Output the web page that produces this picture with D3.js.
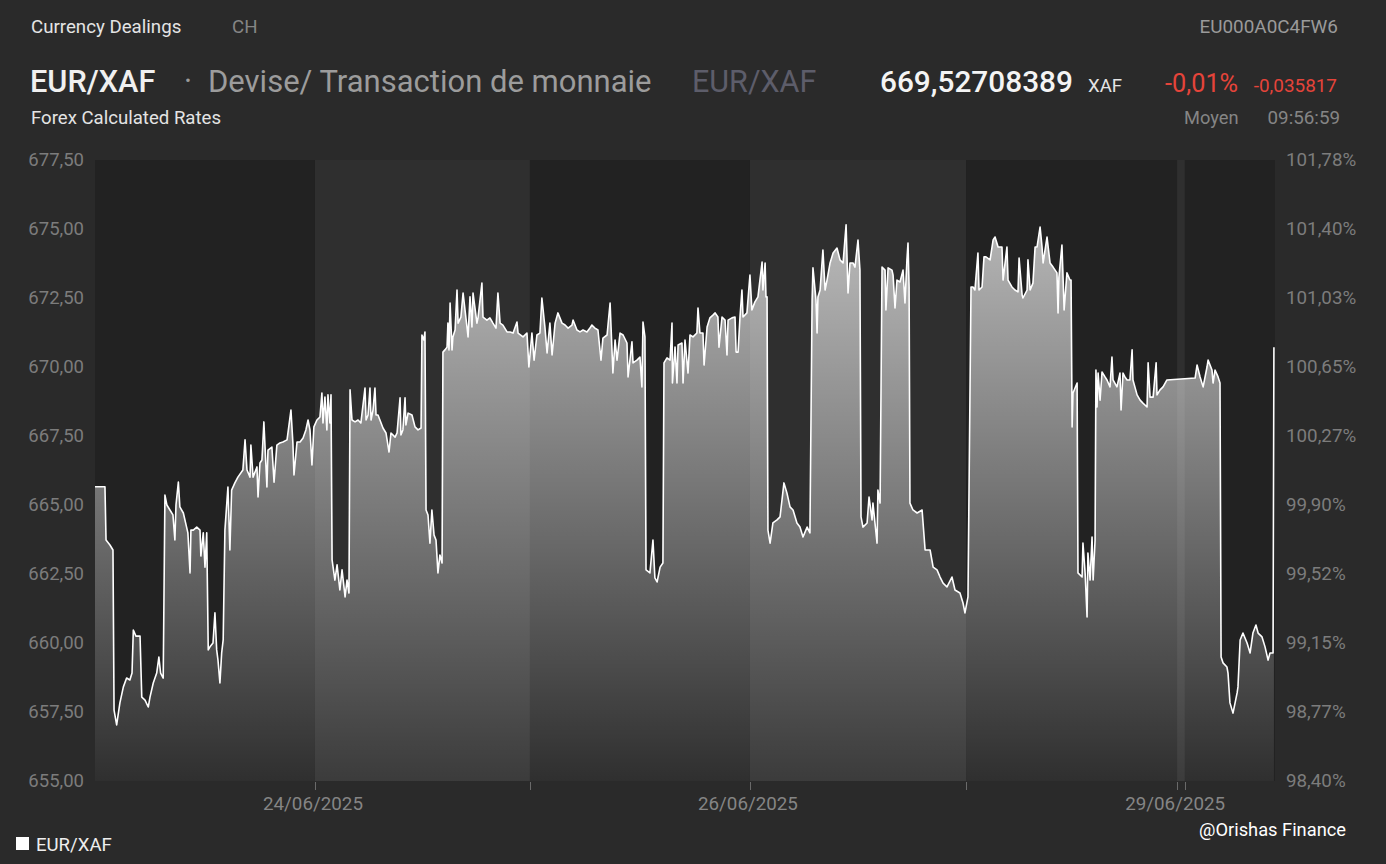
<!DOCTYPE html>
<html><head><meta charset="utf-8">
<script src="https://cdn.jsdelivr.net/npm/d3@7"></script>
<style>
html,body{margin:0;padding:0;background:#2a2a2a;}
svg{display:block;}
text{font-family:Roboto,"Noto Sans",sans-serif;}
</style></head>
<body>
<svg id="chart" width="1386" height="864"></svg>
<script>
// ---- data (x in trading-day units: 0 = 23/06 00:00, 1 = 24/06 ...) ----
const series = [
[-0.016,665.66],[0.030,665.66],[0.035,663.73],[0.053,663.55],[0.067,663.37],[0.072,657.57],[0.084,657.03],[0.099,657.83],[0.115,658.41],[0.130,658.73],[0.145,658.66],[0.155,658.91],[0.161,660.47],[0.173,660.25],[0.192,660.25],[0.200,658.04],[0.215,657.93],[0.230,657.68],[0.238,658.04],[0.253,658.55],[0.269,658.91],[0.279,659.49],[0.287,658.91],[0.299,658.73],
[0.307,665.36],[0.316,665.00],[0.330,664.82],[0.344,664.64],[0.353,663.73],[0.358,665.00],[0.369,665.83],[0.376,664.93],[0.392,664.71],[0.407,664.20],[0.413,663.99],[0.423,662.54],[0.427,664.09],[0.438,664.09],[0.454,664.20],[0.469,664.09],[0.473,663.15],[0.484,663.99],[0.492,662.75],[0.500,663.99],
[0.507,659.75],[0.515,659.86],[0.529,660.00],[0.538,661.09],[0.546,659.75],[0.552,659.38],[0.561,658.55],[0.569,659.64],[0.576,660.11],
[0.584,664.09],[0.598,665.65],[0.607,663.37],[0.615,665.54],[0.630,665.80],[0.644,666.01],[0.667,666.27],[0.677,667.36],[0.686,666.27],[0.700,666.01],[0.704,667.17],[0.714,666.01],[0.732,666.38],[0.737,665.29],[0.746,666.52],[0.755,666.63],[0.764,668.01],[0.778,665.65],[0.783,666.99],[0.801,667.10],[0.811,665.83],[0.824,667.17],[0.838,667.25],[0.852,667.28],[0.871,667.36],[0.889,668.44],[0.898,667.25],[0.903,666.09],[0.917,667.28],[0.931,667.28],[0.945,667.43],[0.958,667.72],[0.968,668.08],[0.977,667.72],[0.986,666.45],[0.995,667.83],[1.009,668.08],[1.023,668.19],[1.032,669.06],[1.037,667.97],[1.046,668.91],[1.055,667.72],[1.060,668.99],[1.069,667.97],[1.074,668.99],
[1.079,663.01],[1.092,662.28],[1.102,662.83],[1.115,661.92],[1.125,662.65],[1.139,661.67],[1.148,662.28],[1.157,661.81],
[1.162,669.17],[1.171,668.08],[1.185,668.01],[1.199,668.08],[1.212,667.97],[1.231,669.24],[1.236,668.08],[1.245,668.26],[1.254,669.24],[1.259,668.08],[1.268,668.44],[1.277,669.24],[1.282,668.26],[1.291,668.26],[1.300,668.08],[1.314,667.79],[1.328,667.61],[1.342,666.92],[1.351,667.61],[1.370,667.46],[1.379,667.61],[1.393,668.88],[1.397,667.54],[1.406,667.72],[1.416,668.88],[1.420,667.90],[1.430,668.33],[1.448,668.26],[1.462,667.83],[1.476,667.72],[1.490,667.79],[1.494,671.16],[1.503,670.98],[1.508,671.27],
[1.513,664.82],[1.522,664.64],[1.531,663.62],[1.540,664.82],[1.550,663.91],[1.559,663.73],[1.568,662.54],[1.577,663.19],[1.587,662.90],
[1.591,670.54],[1.600,670.62],[1.610,670.72],[1.614,671.59],[1.619,670.62],[1.624,672.32],[1.633,670.62],[1.637,671.09],[1.647,671.34],[1.656,672.79],[1.661,671.59],[1.674,671.81],[1.684,672.68],[1.702,671.45],[1.707,671.09],[1.716,672.54],[1.725,671.45],[1.730,672.68],[1.748,671.59],[1.753,671.78],[1.771,673.04],[1.776,671.81],[1.794,671.70],[1.808,671.78],[1.822,671.59],[1.836,671.41],[1.845,672.68],[1.855,671.59],[1.868,671.52],[1.887,671.27],[1.901,671.27],[1.915,671.23],[1.933,671.63],[1.938,671.23],[1.961,671.09],[1.979,671.23],[1.988,670.00],[2.002,671.23],[2.012,670.25],[2.025,671.16],[2.039,671.23],[2.048,672.50],[2.062,671.45],[2.072,670.51],[2.085,671.59],[2.095,670.44],[2.109,671.59],[2.122,671.96],[2.141,671.59],[2.155,671.52],[2.169,671.41],[2.187,671.52],[2.192,671.70],[2.210,671.34],[2.224,671.27],[2.238,671.34],[2.256,671.27],[2.270,671.41],[2.279,671.52],[2.293,671.41],[2.307,671.34],[2.321,670.25],[2.330,671.05],[2.349,671.16],[2.363,672.32],[2.376,669.78],[2.386,670.98],[2.395,670.25],[2.409,671.23],[2.423,671.16],[2.441,670.87],[2.446,669.64],[2.464,670.91],[2.469,670.15],[2.487,670.25],[2.501,670.36],[2.510,669.28],[2.515,671.63],[2.524,671.09],
[2.529,662.65],[2.547,662.54],[2.561,663.73],[2.570,662.36],[2.580,662.21],[2.594,662.75],[2.607,662.90],
[2.612,670.15],[2.626,670.33],[2.640,670.25],[2.649,671.59],[2.651,669.42],[2.663,670.72],[2.672,669.42],[2.677,670.80],[2.695,670.87],[2.700,669.42],[2.709,670.98],[2.723,669.78],[2.732,671.16],[2.746,671.09],[2.764,671.23],[2.769,672.14],[2.778,671.23],[2.792,671.23],[2.797,670.07],[2.811,671.45],[2.824,671.78],[2.838,671.88],[2.848,671.96],[2.861,671.81],[2.866,670.72],[2.880,671.81],[2.894,671.70],[2.903,670.44],[2.908,671.70],[2.926,671.78],[2.940,671.81],[2.945,670.54],[2.954,670.54],[2.963,671.81],[2.972,672.79],[2.977,671.81],[2.995,671.96],[3.009,673.33],[3.018,672.07],[3.032,672.36],[3.046,672.54],[3.065,673.80],[3.069,672.79],[3.079,673.77],[3.083,672.54],[3.088,672.54],
[3.092,664.09],[3.102,663.62],[3.115,664.35],[3.134,664.46],[3.148,664.57],[3.166,665.80],[3.180,665.43],[3.194,664.93],[3.208,664.82],[3.226,664.35],[3.240,664.20],[3.254,663.84],[3.273,664.20],[3.286,663.99],
[3.296,672.43],[3.300,673.59],[3.314,672.43],[3.319,671.23],[3.323,672.54],[3.333,672.79],[3.346,674.24],[3.356,672.79],[3.365,673.15],[3.379,673.77],[3.393,674.13],[3.411,674.31],[3.425,673.88],[3.439,673.77],[3.453,675.15],[3.462,672.68],[3.471,673.77],[3.485,673.77],[3.494,673.62],[3.508,674.60],[3.517,673.51],
[3.522,664.57],[3.531,664.20],[3.550,664.35],[3.559,665.29],[3.573,664.46],[3.577,665.07],[3.596,663.62],[3.600,665.54],[3.610,665.07],
[3.619,673.62],[3.633,673.51],[3.637,672.07],[3.647,673.59],[3.665,673.51],[3.670,673.33],[3.679,672.14],[3.688,673.15],[3.702,673.08],[3.716,673.51],[3.725,672.32],[3.734,673.88],[3.739,674.49],[3.744,672.90],
[3.748,665.07],[3.762,664.82],[3.781,664.71],[3.804,664.82],[3.818,663.37],[3.841,663.37],[3.855,662.75],[3.873,662.65],[3.887,662.39],[3.901,662.17],[3.919,662.03],[3.942,662.39],[3.956,661.92],[3.979,661.81],[3.993,661.45],[4.002,661.09],[4.016,661.67],
[4.030,672.90],[4.039,672.90],[4.048,672.79],[4.062,674.13],[4.067,672.79],[4.081,672.90],[4.090,673.99],[4.099,673.99],[4.118,673.88],[4.132,674.60],[4.141,674.71],[4.155,674.35],[4.173,674.35],[4.178,673.15],[4.196,674.35],[4.201,673.15],[4.219,672.90],[4.233,672.79],[4.247,672.72],[4.252,673.95],[4.266,672.61],[4.270,672.50],[4.289,672.79],[4.293,673.88],[4.303,672.79],[4.316,673.04],[4.326,674.35],[4.335,674.35],[4.349,675.07],[4.358,674.35],[4.363,673.77],[4.381,674.71],[4.395,673.77],[4.409,673.62],[4.427,673.41],[4.432,671.96],[4.436,673.26],[4.450,674.42],[4.455,673.26],[4.460,672.07],[4.473,673.41],[4.487,673.15],[4.492,673.15],
[4.497,667.83],[4.501,669.06],[4.520,669.42],
[4.524,662.54],[4.543,662.39],[4.547,663.62],[4.557,662.54],[4.566,660.94],[4.570,663.26],[4.580,662.28],[4.589,663.84],[4.594,662.28],[4.603,663.73],
[4.607,669.89],[4.612,668.55],[4.617,669.78],[4.626,668.80],[4.635,669.82],[4.649,669.64],[4.658,669.53],[4.672,669.28],[4.681,670.36],[4.686,669.53],[4.704,669.28],[4.718,669.78],[4.723,668.44],[4.732,669.78],[4.741,669.64],[4.751,669.53],[4.764,669.53],[4.774,670.62],[4.778,669.53],[4.797,668.99],[4.811,668.80],[4.824,668.69],[4.843,668.55],[4.848,670.15],[4.857,668.91],[4.871,668.91],[4.885,670.15],[4.889,668.99],[4.903,669.17],[4.917,669.28],[4.935,669.53],[5.065,669.60],[5.074,670.07],[5.088,669.64],[5.102,669.28],[5.120,670.00],[5.125,670.25],[5.143,669.89],[5.148,669.42],[5.157,669.89],[5.171,669.64],[5.180,669.42],
[5.185,659.49],[5.194,659.28],[5.212,659.13],[5.217,658.91],[5.226,657.83],[5.240,657.46],[5.259,658.19],[5.263,658.41],[5.273,660.11],[5.286,660.36],[5.305,660.00],[5.319,659.64],[5.332,660.36],[5.346,660.65],[5.356,660.36],[5.374,660.22],[5.388,659.86],[5.402,659.38],[5.411,659.64],[5.425,659.64],[5.429,670.72]
];
const xDomain = [-0.016, 5.434];
const yDomain = [655, 677.5];
const yTicks = [655, 657.5, 660, 662.5, 665, 667.5, 670, 672.5, 675, 677.5];
const rightTickLabels = ["98,40%","98,77%","99,15%","99,52%","99,90%","100,27%","100,65%","101,03%","101,40%","101,78%"];
const bandEdges = [-0.016, 1.000, 1.993, 3.009, 4.007, 4.982, 5.018, 5.434];
const xTickPos = [1.000, 1.993, 3.009, 4.007, 4.982, 5.018];
const xLabels = [[1.000,"24/06/2025"],[3.009,"26/06/2025"],[4.982,"29/06/2025"]];

// ---- layout ----
const svg = d3.select("#chart");
const L = 95, R = 1275, T = 160, B = 781;
const x = d3.scaleLinear().domain(xDomain).range([L, R]);
const y = d3.scaleLinear().domain(yDomain).range([B, T]);
const fmt = v => d3.format(".2f")(v).replace(".", ",");

svg.append("rect").attr("width",1386).attr("height",864).attr("fill","#2a2a2a");

// bands
const bands = d3.pairs(bandEdges).map((p,i)=>({x0:p[0],x1:p[1],dark:i%2===0}));
svg.append("g").selectAll("rect").data(bands).join("rect")
  .attr("x",d=>x(d.x0)).attr("width",d=>x(d.x1)-x(d.x0))
  .attr("y",T).attr("height",B-T)
  .attr("fill",d=>d.dark?"#222222":"#2f2f2f");

// gradient
const defs = svg.append("defs");
const grad = defs.append("linearGradient").attr("id","fillGrad")
  .attr("gradientUnits","userSpaceOnUse").attr("x1",0).attr("x2",0).attr("y1",T).attr("y2",B);
grad.append("stop").attr("offset","0%").attr("stop-color","#ffffff").attr("stop-opacity",0.74);
grad.append("stop").attr("offset","100%").attr("stop-color","#ffffff").attr("stop-opacity",0.06);

const area = d3.area().x(d=>x(d[0])).y0(B).y1(d=>y(d[1]));
const line = d3.line().x(d=>x(d[0])).y(d=>y(d[1]));
svg.append("path").datum(series).attr("d",area).attr("fill","url(#fillGrad)");
svg.append("path").datum(series).attr("d",line).attr("fill","none")
  .attr("stroke","#ffffff").attr("stroke-width",1.6).attr("stroke-linejoin","round");

// left axis labels
svg.append("g").selectAll("text").data(yTicks).join("text")
  .attr("x",84).attr("y",d=>y(d)+6).attr("text-anchor","end")
  .attr("font-size",18.5).attr("fill","#7c7c7c").text(fmt);
// right axis labels
svg.append("g").selectAll("text").data(yTicks).join("text")
  .attr("x",1286).attr("y",d=>y(d)+6).attr("text-anchor","start")
  .attr("font-size",18.8).attr("fill","#7c7c7c").text((d,i)=>rightTickLabels[i]);

// x ticks
svg.append("g").selectAll("line").data(xTickPos).join("line")
  .attr("x1",d=>Math.round(x(d))+0.5).attr("x2",d=>Math.round(x(d))+0.5)
  .attr("y1",B+1).attr("y2",B+9).attr("stroke","#6a6a6a").attr("stroke-width",1);
svg.append("g").selectAll("text").data(xLabels).join("text")
  .attr("x",d=>x(d[0])-2).attr("y",810).attr("text-anchor","middle")
  .attr("font-size",18.8).attr("fill","#858585").text(d=>d[1]);

// header
const hdr = svg.append("g");
hdr.append("text").attr("x",31).attr("y",33).attr("font-size",18.7).attr("fill","#e4e4e4").text("Currency Dealings");
hdr.append("text").attr("x",232).attr("y",33).attr("font-size",18.7).attr("fill","#858585").text("CH");
hdr.append("text").attr("x",1338).attr("y",33).attr("text-anchor","end").attr("font-size",18.9).attr("fill","#9a9a9a").text("EU000A0C4FW6");
hdr.append("text").attr("x",30).attr("y",92).attr("font-size",30.7).attr("font-weight",500).attr("fill","#f0f0f0").text("EUR/XAF");
hdr.append("text").attr("x",184).attr("y",92).attr("font-size",30.7).attr("fill","#9c9c9c").text("·");
hdr.append("text").attr("x",208).attr("y",92).attr("font-size",31).attr("fill","#9c9c9c").text("Devise/ Transaction de monnaie");
hdr.append("text").attr("x",692).attr("y",92).attr("font-size",30.5).attr("fill","#5d5d6a").text("EUR/XAF");
hdr.append("text").attr("x",880).attr("y",92).attr("font-size",29.8).attr("font-weight",500).attr("fill","#f4f4f4").text("669,52708389");
hdr.append("text").attr("x",1088).attr("y",92).attr("font-size",18.6).attr("fill","#e4e4e4").text("XAF");
hdr.append("text").attr("x",1165).attr("y",92).attr("font-size",25.3).attr("fill","#e5443a").text("-0,01%");
hdr.append("text").attr("x",1337).attr("y",92).attr("text-anchor","end").attr("font-size",18.9).attr("fill","#e5443a").text("-0,035817");
hdr.append("text").attr("x",31).attr("y",124).attr("font-size",18.6).attr("fill","#e4e4e4").text("Forex Calculated Rates");
hdr.append("text").attr("x",1184).attr("y",124).attr("font-size",18.3).attr("fill","#858585").text("Moyen");
hdr.append("text").attr("x",1340).attr("y",124).attr("text-anchor","end").attr("font-size",18.8).attr("fill","#858585").text("09:56:59");

// legend
svg.append("rect").attr("x",16).attr("y",837).attr("width",13).attr("height",13).attr("fill","#ffffff");
svg.append("text").attr("x",36).attr("y",851).attr("font-size",18.6).attr("fill","#eeeeee").text("EUR/XAF");

// watermark
svg.append("text").attr("x",1346).attr("y",836).attr("text-anchor","end")
  .attr("font-family","'Open Sans',sans-serif").attr("font-size",18.3).attr("fill","#ffffff").text("@Orishas Finance");
</script>
</body></html>
